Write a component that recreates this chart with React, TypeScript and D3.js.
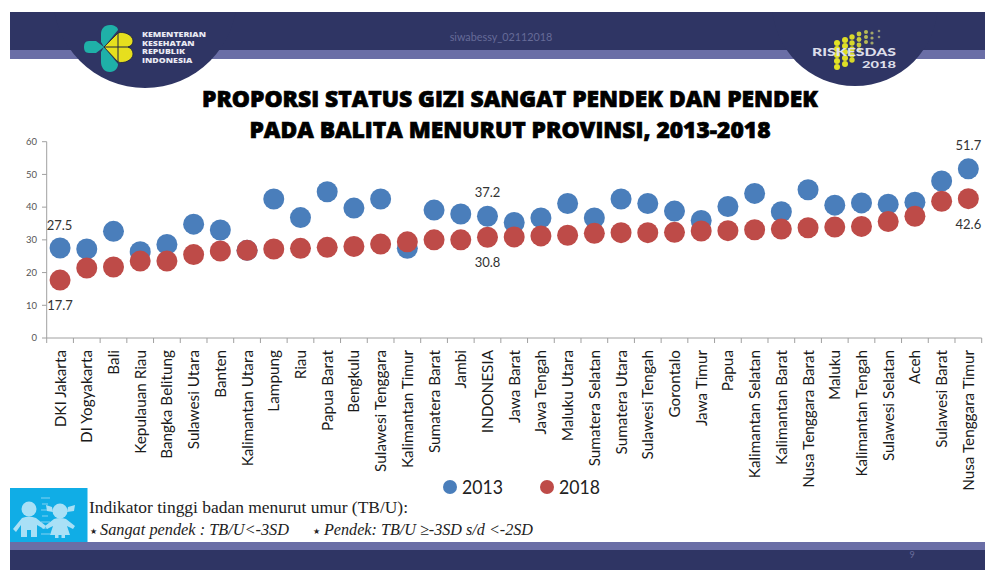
import React from "react";
import * as d3 from "d3";

const provinces = [
  "DKI Jakarta", "DI Yogyakarta", "Bali", "Kepulauan Riau", "Bangka Belitung", "Sulawesi Utara", "Banten",
  "Kalimantan Utara", "Lampung", "Riau", "Papua Barat", "Bengkulu", "Sulawesi Tenggara", "Kalimantan Timur",
  "Sumatera Barat", "Jambi", "INDONESIA", "Jawa Barat", "Jawa Tengah", "Maluku Utara", "Sumatera Selatan",
  "Sumatera Utara", "Sulawesi Tengah", "Gorontalo", "Jawa Timur", "Papua", "Kalimantan Selatan",
  "Kalimantan Barat", "Nusa Tenggara Barat", "Maluku", "Kalimantan Tengah", "Sulawesi Selatan", "Aceh",
  "Sulawesi Barat", "Nusa Tenggara Timur",
];
const values2013 = [
  27.5, 27.2, 32.6, 26.4, 28.6, 34.8, 33.0, 26.8, 42.5, 36.8, 44.7, 39.7, 42.5, 27.4, 39.1, 37.9, 37.2, 35.3,
  36.7, 41.1, 36.7, 42.5, 41.1, 38.8, 35.9, 40.2, 44.2, 38.6, 45.3, 40.6, 41.3, 40.9, 41.5, 48.0, 51.7,
];
const values2018 = [
  17.7, 21.4, 21.7, 23.5, 23.5, 25.5, 26.6, 26.8, 27.2, 27.4, 27.7, 28.0, 28.7, 29.4, 30.0, 30.0, 30.8, 30.9,
  31.2, 31.4, 32.0, 32.2, 32.2, 32.3, 32.7, 32.8, 33.1, 33.3, 33.7, 33.9, 34.1, 35.6, 37.2, 41.8, 42.6,
];
const yTicks = [0, 10, 20, 30, 40, 50, 60];
const titleLines = ["PROPORSI STATUS GIZI SANGAT PENDEK DAN PENDEK", "PADA BALITA MENURUT PROVINSI, 2013-2018"];
const ministryLines = ["KEMENTERIAN", "KESEHATAN", "REPUBLIK", "INDONESIA"];
const legendItems = [
  { year: "2013", color: "#4a7ebb" },
  { year: "2018", color: "#be4b48" },
];
// Values printed beside their markers: province index, which series, offset from the marker.
const valueLabels = [
  { index: 0, series: values2013, dy: -18.5, dx: -0.5 },
  { index: 0, series: values2018, dy: 30, dx: 0 },
  { index: 16, series: values2013, dy: -19, dx: 0 },
  { index: 16, series: values2018, dy: 30, dx: 0 },
  { index: 34, series: values2013, dy: -18.5, dx: 0 },
  { index: 34, series: values2018, dy: 30.5, dx: 0 },
];

const NAVY = "#2f3564";
const STRIPE = "#6a6ea6";
const AXIS = "#a0a0a0";
const KID = "#a9e0f6";

const x = d3.scaleBand<string>().domain(provinces).range([46.7, 981.7]);
const y = d3.scaleLinear().domain([0, 60]).range([338, 141.7]);
const cx = (name: string) => (x(name) as number) + x.bandwidth() / 2;
const edges = [...provinces.map((p) => x(p) as number), 981.7];

// Survey emblem: columns of dots that shrink and fade towards the upper right.
const emblemColumns = [
  { x: 837, ys: [43, 49, 55, 61, 67], r: 3, fill: "#e4e324" },
  { x: 845, ys: [40, 46, 52, 58, 64], r: 3, fill: "#dfdf26" },
  { x: 852, ys: [37, 43, 49, 55, 60], r: 2.7, fill: "#d8d82a" },
  { x: 859, ys: [34, 39.5, 45, 50], r: 2.4, fill: "#c9cb3c" },
  { x: 866, ys: [32, 37, 42], r: 2, fill: "#b8ba55" },
  { x: 872, ys: [33, 38, 43], r: 1.6, fill: "#a4a76a" },
  { x: 879, ys: [31, 37], r: 1.3, fill: "#8f9378" },
];
const rulerMarks = [498, 504, 510, 516, 522, 528, 534];

function Boy() {
  return (
    <g fill={KID}>
      <circle cx={29} cy={509} r={7.5} />
      <path d="M22,518 Q29,515 36,518 L46,526 L44,529 L37,525 L37,537 L31,537 L31,530 L27,530 L27,537 L21,537 L21,525 L16,532 L13,529 Z" />
    </g>
  );
}

function Girl() {
  return (
    <g fill={KID}>
      <circle cx={60} cy={511} r={7.5} />
      <path d="M52,507 L46,505 L47,511 L53,512 Z M68,507 L75,505 L74,511 L67,512 Z" />
      <path d="M54,519 Q60,517 66,519 L75,526 L73,529 L67,526 L70,535 L65,535 L65,538 L61.5,538 L61.5,535 L58.5,535 L58.5,538 L55,538 L55,535 L50,535 L53,526 L47,529 L45,526 Z" />
    </g>
  );
}

export default function App() {
  const labelFont = "Lato, 'Open Sans', sans-serif";
  const heavyFont = "'Open Sans', sans-serif";
  const noteFont = "'Liberation Serif', serif";
  return (
    <svg
      width={985}
      height={570}
      viewBox="0 0 985 570"
      style={{ position: "absolute", left: 0, top: 0, background: "#fff" }}
    >
      <defs>
        <clipPath id="header-clip">
          <rect x={10} y={12} width={975} height={90} />
        </clipPath>
      </defs>

      {/* Slide header */}
      <rect x={10} y={12} width={975} height={38} fill={NAVY} />
      <rect x={10} y={50} width={975} height={9} fill={STRIPE} />
      <g clipPath="url(#header-clip)">
        <circle cx={145} cy={-4} r={92} fill={NAVY} />
        <circle cx={855} cy={3} r={83} fill={NAVY} />
      </g>
      <text x={501} y={41} textAnchor="middle" fontSize={10.8} fontFamily={labelFont} fill="#666b98">
        siwabessy_02112018
      </text>

      {/* Ministry emblem */}
      <g fill="#1fb0a8">
        <path d="M104,47 L96,41 L89,41 C85,41 84,44 84,47 C84,50 85,53 89,53 L96,53 Z" />
        <path d="M104,47 L118,30 C118,27 114,25 110,25 C104,25 101,29 101,34 L101,42 Z" />
        <path d="M104,47 L118,64 C118,68 115,72 110,72 C104,72 101,67 101,62 L101,52 Z" />
      </g>
      <path
        d="M104,47 L118,33 C124,31 133,35 133,41 C133,44 131,46 128,47 C131,48 133,51 133,54 C133,60 124,64 118,62 Z"
        fill="#e6df1e"
        stroke="#1c2340"
        strokeWidth={0.8}
      />
      <path d="M104,47 H130 M118,33 V62" stroke="#1c2340" strokeWidth={1} fill="none" />
      {ministryLines.map((line, i) => (
        <text
          key={line}
          transform={`translate(142,${37 + i * 8.6}) scale(1.33,1)`}
          fontSize={6.6}
          fontWeight={800}
          fontFamily={heavyFont}
          fill="#e8e9f2"
        >
          {line}
        </text>
      ))}

      {/* Survey emblem */}
      {emblemColumns.map((col) =>
        col.ys.map((dotY) => <circle key={`${col.x}-${dotY}`} cx={col.x} cy={dotY} r={col.r} fill={col.fill} />),
      )}
      <text
        x={812}
        y={55.5}
        fontSize={10.5}
        fontWeight={900}
        fontFamily={labelFont}
        fill="#dcdde9"
        textLength={84}
        lengthAdjust="spacingAndGlyphs"
      >
        RISKESDAS
      </text>
      <text
        x={862}
        y={67.5}
        fontSize={10}
        fontWeight={900}
        fontFamily={labelFont}
        fill="#dcdde9"
        textLength={34}
        lengthAdjust="spacingAndGlyphs"
      >
        2018
      </text>

      {/* Title */}
      {titleLines.map((line, i) => (
        <text
          key={line}
          x={510}
          y={107 + i * 31}
          textAnchor="middle"
          fontSize={22.8}
          fontWeight={800}
          fontFamily={heavyFont}
          fill="#000"
          stroke="#000"
          strokeWidth={0.7}
        >
          {line}
        </text>
      ))}

      {/* Axes */}
      <line x1={46.7} x2={46.7} y1={y(60)} y2={y(0)} stroke={AXIS} />
      <line x1={46.7} x2={981.7} y1={y(0)} y2={y(0)} stroke={AXIS} />
      {yTicks.map((t) => (
        <g key={t}>
          <line x1={42} x2={46.7} y1={y(t)} y2={y(t)} stroke={AXIS} />
          <text x={37} y={y(t) + 3.3} textAnchor="end" fontSize={9.5} fontFamily={labelFont} fill="#555">
            {t}
          </text>
        </g>
      ))}
      {edges.map((e) => (
        <line key={e} x1={e} x2={e} y1={y(0)} y2={y(0) + 5} stroke={AXIS} />
      ))}
      {provinces.map((p) => (
        <text
          key={p}
          transform={`translate(${cx(p) + 5.5},350) rotate(-90)`}
          textAnchor="end"
          fontSize={15.3}
          fontFamily={labelFont}
          fill="#1a1a1a"
        >
          {p}
        </text>
      ))}

      {/* Markers: 2013 sits underneath 2018 */}
      {provinces.map((p, i) => (
        <circle key={p} cx={cx(p)} cy={y(values2013[i])} r={10.5} fill="#4a7ebb" />
      ))}
      {provinces.map((p, i) => (
        <circle key={p} cx={cx(p)} cy={y(values2018[i])} r={10.5} fill="#be4b48" />
      ))}

      {/* Value labels */}
      {valueLabels.map((l) => {
        const v = l.series[l.index];
        return (
          <text
            key={`${l.index}-${v}`}
            x={cx(provinces[l.index]) + l.dx}
            y={y(v) + l.dy}
            textAnchor="middle"
            fontSize={13}
            fontFamily={labelFont}
            fill="#333"
          >
            {v.toFixed(1)}
          </text>
        );
      })}

      {/* Legend */}
      {legendItems.map((item, i) => (
        <g key={item.year}>
          <circle cx={450 + i * 97} cy={487} r={7} fill={item.color} />
          <text
            x={462 + i * 97}
            y={494}
            fontSize={19.5}
            fontFamily={labelFont}
            fill="#222"
            textLength={41}
            lengthAdjust="spacingAndGlyphs"
          >
            {item.year}
          </text>
        </g>
      ))}

      {/* Indicator note */}
      <rect x={10} y={488} width={77.5} height={59} fill="#10ade6" />
      {rulerMarks.map((m, i) => (
        <line key={m} x1={i % 2 ? 42 : 41} x2={i % 2 ? 48 : 50} y1={m} y2={m} stroke={KID} strokeWidth={1} opacity={0.75} />
      ))}
      <Boy />
      <Girl />
      <text
        x={89}
        y={513}
        fontSize={17.5}
        fontFamily={noteFont}
        fill="#222"
        textLength={319}
        lengthAdjust="spacingAndGlyphs"
      >
        Indikator tinggi badan menurut umur (TB/U):
      </text>
      <text x={90} y={534} fontSize={8} fontFamily="'DejaVu Sans', sans-serif" fill="#222">★</text>
      <text
        x={100}
        y={535}
        fontSize={16.5}
        fontStyle="italic"
        fontFamily={noteFont}
        fill="#222"
        textLength={189}
        lengthAdjust="spacingAndGlyphs"
      >
        Sangat pendek : TB/U&lt;-3SD
      </text>
      <text x={313} y={534} fontSize={8} fontFamily="'DejaVu Sans', sans-serif" fill="#222">★</text>
      <text
        x={324}
        y={535}
        fontSize={16.5}
        fontStyle="italic"
        fontFamily={noteFont}
        fill="#222"
        textLength={209}
        lengthAdjust="spacingAndGlyphs"
      >
        Pendek: TB/U ≥-3SD s/d &lt;-2SD
      </text>

      {/* Slide footer */}
      <rect x={10} y={542} width={975} height={8} fill={STRIPE} />
      <rect x={10} y={550} width={975} height={20} fill={NAVY} />
      <text x={912} y={558} textAnchor="middle" fontSize={9} fontFamily={labelFont} fill="#6a6e9c">
        9
      </text>
    </svg>
  );
}
